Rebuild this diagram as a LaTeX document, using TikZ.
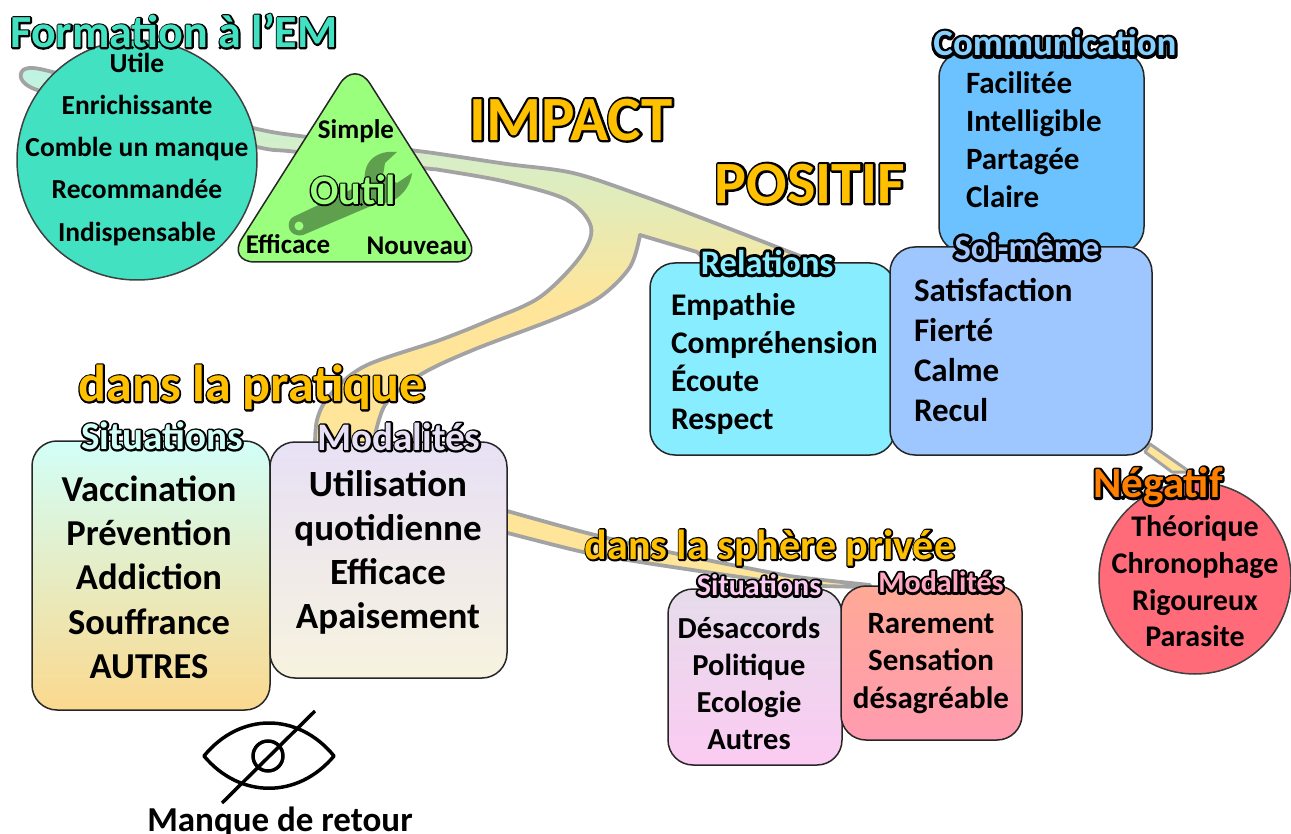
\documentclass[tikz,border=0pt]{standalone}
\usepackage{fontspec}
\setmainfont{Carlito}[Ligatures=Common]
\definecolor{band}{HTML}{FFE599}
\definecolor{bandtop}{HTML}{BDF4E4}
\definecolor{bandgray}{HTML}{A3A3A3}
\definecolor{teal}{HTML}{41E1C1}
\definecolor{tri}{HTML}{99FF7C}
\definecolor{wrench}{HTML}{5FA04E}
\definecolor{gold}{HTML}{FFC000}
\definecolor{orangeb}{HTML}{FF8000}
\definecolor{commfill}{HTML}{6BC2FF}
\definecolor{commlab}{HTML}{85D0FF}
\definecolor{relfill}{HTML}{87EDFF}
\definecolor{soifill}{HTML}{9EC6FF}
\definecolor{negfill}{HTML}{FF6B78}
\definecolor{sitA}{HTML}{D2FFF8}
\definecolor{sitB}{HTML}{FBD98E}
\definecolor{modA}{HTML}{E8E0F5}
\definecolor{modB}{HTML}{F7F3DF}
\definecolor{psA}{HTML}{E6DCEB}
\definecolor{psB}{HTML}{FBCBF2}
\definecolor{pmA}{HTML}{FFA996}
\definecolor{pmB}{HTML}{FF9BB0}
\definecolor{pmL}{HTML}{FFA8C0}
\pgfdeclareverticalshading{swoosh}{100bp}{color(0bp)=(band);color(44bp)=(band);color(75bp)=(bandtop);color(100bp)=(bandtop)}
\newcommand{\olt}[3]{\rlap{\special{pdf:code 1 j 1 J 1 Tr #1 w 0 0 0 RG}#3\special{pdf:code 0 Tr 1 w 0 j 0 J}}{\color{#2}#3}}
% name, x, y(centre), size, anchor, text
\newcommand{\tx}[6]{\node[txt,anchor=#5] (#1) at (#2,{#3+0.32*#4+1}) {\fontsize{#4}{#4}\selectfont #6};}
% name, x, y, size, stroke width, colour, text
\newcommand{\ot}[7]{\node[txt,anchor=base] (#1) at (#2,{#3+0.32*#4+1}) {\fontsize{#4}{#4}\selectfont\olt{#5}{#6}{#7}};}
\tikzset{
  txt/.style={inner sep=0pt,outer sep=0pt,font=\bfseries,text=black},
  bandshape/.style={draw=bandgray,line width=3.8pt,line join=round},
  roundbox/.style={draw=black!85,line width=1.5pt,rounded corners=25pt},
  disc/.style={circle,draw=black!75,line width=1.5pt,inner sep=0pt}
}
\begin{document}
\begin{tikzpicture}[x=1pt,y=-1pt]
\useasboundingbox (0,0) rectangle (1291,834);
% main swoosh
\draw[bandshape,shade,shading=swoosh]
  plot[smooth,tension=0.55] coordinates {(21,74) (40,69) (150,100) (253,128) (307,137) (410,150) (440,154) (507,164) (573,173) (640,195) (707,220) (805,258)}
  -- (810,275) -- (720,275) -- (697,252) -- (640,235)
  -- plot[smooth,tension=0.55] coordinates {(640,235) (630,267) (600,297) (557,318) (473,350) (420,375) (385,405) (372,450)}
  -- plot[smooth,tension=0.55] coordinates {(315,450) (317,420) (330,395) (365,366) (440,340) (490,320) (540,297) (580,257) (591,227) (567,200) (507,182) (440,170) (423,168) (297,152) (257,147) (150,120) (37,90) (21,74)}
  -- cycle;
% private band
\draw[bandshape,fill=band]
  plot[smooth,tension=0.5] coordinates {(500,509) (587,533) (673,553) (773,573) (805,578) (870,585)}
  -- plot[smooth,tension=0.5] coordinates {(870,587) (800,585) (740,577) (640,562) (583,552) (500,531)} -- cycle;
% negative band
\draw[bandgray,line width=3pt,fill=band,line join=round] (1150,444) -- (1190,472) -- (1172,472) -- (1145,452) -- cycle;
% Formation circle
\node[disc,fill=teal,minimum size=240pt] (formcircle) at (137,160) {};
\ot{formation}{174}{32}{46}{3.5}{teal}{Formation à l’EM}
\tx{utile}{137}{63}{27.5}{base}{Utile}
\tx{enrichi}{137}{105}{27.5}{base}{Enrichissante}
\tx{comble}{137}{147}{27.5}{base}{Comble un manque}
\tx{recom}{137}{189}{27.5}{base}{Recommandée}
\tx{indisp}{137}{232}{27.5}{base}{Indispensable}
% Outil triangle
\draw[draw=black!85,line width=1.5pt,fill=tri,rounded corners=28pt] (355,60) -- (483,262) -- (227,262) -- cycle;
\fill[wrench] (397,152) .. controls (378,150) and (362,160) .. (365,183) -- (293,217) .. controls (285,222) and (288,238) .. (303,235) -- (378,203) .. controls (395,205) and (410,190) .. (412,173) -- (397,183) -- (383,175) -- (385,163) -- cycle;
\fill[tri] (299,226) circle (4.5pt);
\ot{outil}{353}{190}{42}{3}{tri}{Outil}
\tx{simple}{356}{129}{27}{base}{Simple}
\tx{efficace1}{288}{244}{27}{base}{Efficace}
\tx{nouveau}{417}{245}{27}{base}{Nouveau}
% titles
\ot{impact}{571}{119}{63}{4.5}{gold}{IMPACT}
\ot{positif}{810}{183}{60}{4.5}{gold}{POSITIF}
% Communication
\draw[roundbox,fill=commfill] (939,52) rectangle (1144,252);
\ot{commlabel}{1055}{43}{37}{6}{commlab}{Communication}
\tx{facil}{966}{83}{31}{base west}{Facilitée}
\tx{intel}{966}{121}{31}{base west}{Intelligible}
\tx{parta}{966}{159}{31}{base west}{Partagée}
\tx{claire}{966}{197}{31}{base west}{Claire}
% Relations
\draw[roundbox,fill=relfill] (650,263) rectangle (895,455);
\ot{rellab}{767}{262}{34.5}{6}{relfill}{Relations}
\tx{empa}{671}{304}{31.5}{base west}{Empathie}
\tx{compr}{671}{342}{31.5}{base west}{Compréhension}
\tx{ecoute}{671}{380}{31.5}{base west}{Écoute}
\tx{respect}{671}{418}{31.5}{base west}{Respect}
% Soi-meme
\draw[roundbox,fill=soifill] (890,247) rectangle (1152,455);
\ot{soilab}{1027}{247}{34.5}{6}{soifill}{Soi-même}
\tx{satis}{914}{290}{33}{base west}{Satisfaction}
\tx{fierte}{914}{330}{33}{base west}{Fierté}
\tx{calme}{914}{370}{33}{base west}{Calme}
\tx{recul}{914}{410}{33}{base west}{Recul}
% Negatif
\node[disc,fill=negfill,minimum size=192pt] (negcircle) at (1195,578) {};
\ot{neglab}{1158}{483}{43}{4.5}{orangeb}{Négatif}
\tx{theo}{1195}{526}{30}{base}{Théorique}
\tx{chrono}{1195}{563}{30}{base}{Chronophage}
\tx{rigour}{1195}{600}{30}{base}{Rigoureux}
\tx{parasite}{1195}{636}{30}{base}{Parasite}
% dans la pratique
\ot{pratique}{252}{384}{52}{3.5}{gold}{dans la pratique}
% Situations
\draw[roundbox,top color=sitA,bottom color=sitB] (32,441) rectangle (270,710);
\ot{sitlab}{162}{436}{39}{3.8}{sitA}{Situations}
\tx{vacc}{149}{489}{36.5}{base}{Vaccination}
\tx{prev}{149}{533}{36.5}{base}{Prévention}
\tx{addic}{149}{577}{36.5}{base}{Addiction}
\tx{souff}{149}{622}{36.5}{base}{Souffrance}
\tx{autres1}{149}{666}{36.5}{base}{AUTRES}
% Modalites
\draw[roundbox,top color=modA,bottom color=modB] (270,442) rectangle (507,678);
\ot{modlab}{399}{437}{39}{3.8}{modA}{Modalités}
\tx{utili}{388}{484}{37}{base}{Utilisation}
\tx{quoti}{388}{528}{37}{base}{quotidienne}
\tx{effic2}{388}{572}{37}{base}{Efficace}
\tx{apais}{388}{616}{37}{base}{Apaisement}
% sphere privee
\ot{sphere}{770}{545}{42}{3.5}{gold}{dans la sphère privée}
% Situations privee
\draw[roundbox,top color=psA,bottom color=psB] (668,589) rectangle (842,765);
\ot{sit2lab}{759}{585}{30}{4.5}{psB}{Situations}
\tx{desac}{749}{628}{30.5}{base}{Désaccords}
\tx{polit}{749}{665}{30.5}{base}{Politique}
\tx{ecolo}{749}{702}{30.5}{base}{Ecologie}
\tx{autres2}{749}{739}{30.5}{base}{Autres}
% Modalites privee
\draw[roundbox,top color=pmA,bottom color=pmB] (841,586) rectangle (1022,740);
\ot{mod2lab}{941}{582}{30}{4.5}{pmL}{Modalités}
\tx{rarem}{931}{623}{31}{base}{Rarement}
\tx{sensa}{931}{660}{31}{base}{Sensation}
\tx{desag}{931}{698}{31}{base}{désagréable}
% eye
\draw[line width=3.5pt,line join=round] (204,756) .. controls (240,712) and (298,712) .. (334,756) .. controls (298,799) and (240,799) .. (204,756) -- cycle;
\draw[line width=3.5pt] (268,756) circle (15pt);
\draw[line width=3.5pt] (315,711) -- (222,803);
\tx{manque}{280}{819}{35}{base}{Manque de retour}
\end{tikzpicture}
\end{document}
